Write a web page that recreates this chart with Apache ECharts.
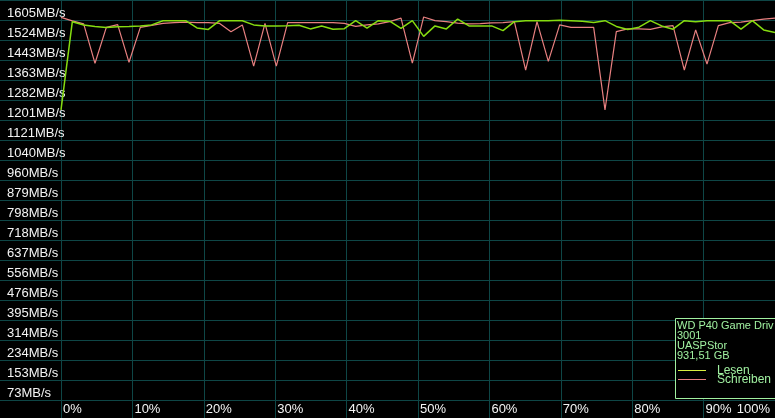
<!DOCTYPE html>
<html>
<head>
<meta charset="utf-8">
<script src="https://cdn.jsdelivr.net/npm/echarts@6/dist/echarts.min.js"></script>
<style>
html,body{margin:0;padding:0;background:#000;}
#chart{width:775px;height:418px;}
</style>
</head>
<body>
<div id="chart"></div>
<script>
// ---- data ----
var yLabels = ['1605MB/s','1524MB/s','1443MB/s','1363MB/s','1282MB/s','1201MB/s','1121MB/s','1040MB/s','960MB/s','879MB/s','798MB/s','718MB/s','637MB/s','556MB/s','476MB/s','395MB/s','314MB/s','234MB/s','153MB/s','73MB/s'];
var xTicks = [0,10,20,30,40,50,60,70,80,90,100];
var lesen = [1164,1518,1505,1499,1495,1498,1499,1501,1505,1522,1522,1522,1493,1487,1522,1522,1522,1505,1501,1501,1502,1504,1489,1501,1488,1490,1522,1492,1522,1520,1491,1522,1459,1501,1489,1528,1501,1501,1501,1482,1518,1522,1522,1522,1524,1522,1520,1515,1522,1499,1487,1496,1522,1501,1488,1522,1518,1522,1522,1522,1488,1522,1485,1475];
var schreiben = [1535,1521,1509,1351,1495,1506,1355,1495,1503,1511,1514,1516,1514,1514,1511,1478,1505,1340,1511,1340,1514,1514,1514,1514,1514,1511,1499,1505,1509,1518,1532,1352,1537,1522,1518,1512,1509,1510,1513,1514,1518,1324,1518,1359,1505,1495,1495,1495,1164,1478,1489,1489,1487,1497,1502,1324,1485,1348,1502,1514,1516,1522,1528,1532];
var legendInfo = ['WD P40 Game Driv','3001','UASPStor','931,51 GB'];
var seriesNames = ['Lesen','Schreiben'];

var yMax = 1605, yStep = 80.25;
var lastIdx = lesen.length - 1;
function toXY(arr){ return arr.map(function(v,i){ return [i*100/lastIdx, v]; }); }

var gridColor = '#0e4646';
var txtColor = '#f4f4f4';
var lesenColor = '#86dc10';
var lesenLegend = '#d8f040';
var schreibenColor = '#e88080';
var legColor = '#a0f0a0';
var font = 'Liberation Sans, Arial, sans-serif';

var chart = echarts.init(document.getElementById('chart'), null, {renderer:'canvas'});
var legendEls = [
  {type:'rect', shape:{x:675.5,y:318.5,width:110,height:80}, style:{fill:'#000',stroke:legColor,lineWidth:1}, z:100}
];
legendInfo.forEach(function(t,i){
  legendEls.push({type:'text', x:677, y:325.5+i*10, style:{text:t, fill:legColor, font:'11px '+font, textVerticalAlign:'middle', textAlign:'left'}, z:101});
});
[[lesenLegend,370.5,seriesNames[0],370.5],[schreibenColor,379.5,seriesNames[1],380]].forEach(function(e){
  legendEls.push({type:'line', shape:{x1:678,y1:e[1],x2:706,y2:e[1]}, style:{stroke:e[0],lineWidth:1}, z:101});
  legendEls.push({type:'text', x:717, y:e[3], style:{text:e[2], fill:legColor, font:'12px '+font, textVerticalAlign:'middle', textAlign:'left'}, z:101});
});

chart.setOption({
  backgroundColor:'#000',
  animation:false,
  grid:{left:61, top:0, width:715, height:400, containLabel:false},
  xAxis:{
    type:'value', min:0, max:100, interval:10,
    axisLine:{show:false},
    axisTick:{show:true, inside:false, length:18, lineStyle:{color:gridColor,width:1}},
    splitLine:{show:true, lineStyle:{color:gridColor,width:1}},
    axisLabel:{
      show:true, color:txtColor, fontFamily:font, fontSize:13, margin:3,
      align:'left', verticalAlign:'top', padding:[0,0,0,2],
      alignMaxLabel:'right',
      formatter:function(v){ return v===100 ? '{r|'+v+'%}' : v+'%'; },
      rich:{r:{color:txtColor, fontFamily:font, fontSize:13, padding:[0,5,0,0]}}
    }
  },
  yAxis:{
    type:'value', min:0, max:yMax, interval:yStep,
    axisLine:{show:false},
    axisTick:{show:true, inside:false, length:61, lineStyle:{color:gridColor,width:1}},
    splitLine:{show:true, lineStyle:{color:gridColor,width:1}},
    axisLabel:{
      show:true, color:txtColor, fontFamily:font, fontSize:13, margin:54,
      align:'left', verticalAlign:'top', padding:[7,0,0,0],
      formatter:function(v){ var k=Math.round((yMax-v)/yStep); return yLabels[k]||''; }
    }
  },
  series:[
    {name:seriesNames[1], type:'line', data:toXY(schreiben), symbol:'none', lineStyle:{color:schreibenColor,width:1.2}, z:3},
    {name:seriesNames[0], type:'line', data:toXY(lesen), symbol:'none', lineStyle:{color:lesenColor,width:1.5}, z:4}
  ],
  graphic:legendEls
});
</script>
</body>
</html>
